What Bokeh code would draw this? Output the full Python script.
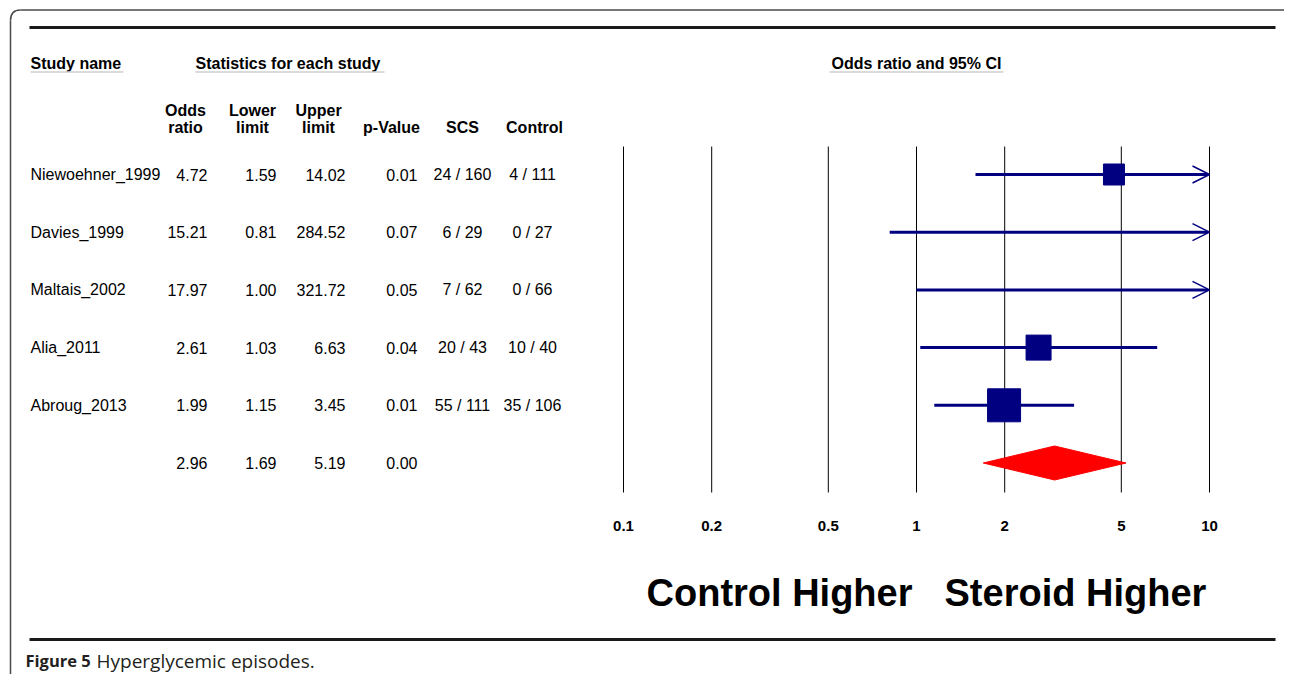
from bokeh.plotting import figure
from bokeh.models import Range1d, LinearScale, LogScale, ColumnDataSource, Arrow, OpenHead
from bokeh.core.properties import value
from bokeh.embed import file_html
from bokeh.resources import INLINE

# ---------------- data ----------------
studies = ["Niewoehner_1999", "Davies_1999", "Maltais_2002", "Alia_2011", "Abroug_2013"]
odds_ratio = [4.72, 15.21, 17.97, 2.61, 1.99]
lower_limit = [1.59, 0.81, 1.00, 1.03, 1.15]
upper_limit = [14.02, 284.52, 321.72, 6.63, 3.45]
p_value = [0.01, 0.07, 0.05, 0.04, 0.01]
scs_events = ["24 / 160", "6 / 29", "7 / 62", "20 / 43", "55 / 111"]
control_events = ["4 / 111", "0 / 27", "0 / 66", "10 / 40", "35 / 106"]
summary_or = 2.96
summary_lower = 1.69
summary_upper = 5.19
summary_p = 0.00
tick_values = [0.1, 0.2, 0.5, 1, 2, 5, 10]
tick_labels = ["0.1", "0.2", "0.5", "1", "2", "5", "10"]

# ---------------- styles / layout ----------------
box_px = [21, 0, 0, 25, 33]
NAVY = "#000080"
RED = "#ff0000"
FONT = value("Liberation Sans")
CAP_FONT = value("Open Sans")
W, H = 1284, 674
ROW_PX = 57.7
ROW0_PX = 174.0
DEC_PX = 293.0
X_LO_PX = 623.0

x_min = 10 ** (-1 - X_LO_PX / DEC_PX)
x_max = 10 ** (-1 + (W - X_LO_PX) / DEC_PX)
y_top = -ROW0_PX / ROW_PX
y_bot = (H - ROW0_PX) / ROW_PX

p = figure(width=W, height=H, x_axis_type="log",
           x_range=Range1d(x_min, x_max), y_range=Range1d(y_bot, y_top),
           x_axis_location=None, y_axis_location=None, min_border=0,
           toolbar_location=None, output_backend="svg",
           outline_line_color=None, background_fill_color="white",
           border_fill_color="white")
p.x_scale = LogScale()
p.xgrid.grid_line_color = None
p.ygrid.grid_line_color = None
p.grid.visible = False
p.extra_x_ranges = {"px": Range1d(0, W)}
p.extra_x_scales = {"px": LinearScale()}
p.extra_y_ranges = {"px": Range1d(H, 0)}
p.extra_y_scales = {"px": LinearScale()}

rows = list(range(len(studies)))
sum_row = len(studies)
x_cap = max(tick_values)

# frame border (rounded corner top-left) and rules
BORDER = "#4a4a4a"
p.line(x=[10, 10], y=[H, 20], x_range_name="px", y_range_name="px", line_color=BORDER, line_width=1.5)
p.quadratic(x0=[10], y0=[20], x1=[20], y1=[9.5], cx=[10], cy=[9.5], x_range_name="px", y_range_name="px",
            line_color=BORDER, line_width=1.5)
p.line(x=[20, W], y=[9.5, 9.5], x_range_name="px", y_range_name="px", line_color=BORDER, line_width=1.5)
p.segment(x0=[29, 29], x1=[1275, 1275], y0=[27, 639], y1=[27, 639], x_range_name="px", y_range_name="px",
          line_color="#1a1a1a", line_width=3)

# vertical reference lines
p.segment(x0=tick_values, x1=tick_values, y0=[146] * len(tick_values), y1=[492] * len(tick_values),
          y_range_name="px", line_color="black", line_width=1)
p.text(x=tick_values, y=[525] * len(tick_values), text=tick_labels, y_range_name="px",
       text_align="center", text_baseline="middle", text_font=FONT, text_font_style="bold",
       text_font_size="15px", text_color="black")

# CIs
seg_src = ColumnDataSource(dict(
    x0=[lower_limit[i] for i in rows if upper_limit[i] <= x_cap],
    x1=[upper_limit[i] for i in rows if upper_limit[i] <= x_cap],
    y=[i for i in rows if upper_limit[i] <= x_cap]))
p.segment(x0="x0", x1="x1", y0="y", y1="y", source=seg_src, line_color=NAVY, line_width=3)

arr_src = ColumnDataSource(dict(
    x0=[lower_limit[i] for i in rows if upper_limit[i] > x_cap],
    x1=[x_cap for i in rows if upper_limit[i] > x_cap],
    y=[i for i in rows if upper_limit[i] > x_cap]))
p.add_layout(Arrow(end=OpenHead(size=17, line_color=NAVY, line_width=1.5),
                   x_start="x0", y_start="y", x_end="x1", y_end="y", source=arr_src,
                   line_color=NAVY, line_width=3))

box_src = ColumnDataSource(dict(
    x=[odds_ratio[i] for i in rows if odds_ratio[i] <= x_cap],
    y=[i for i in rows if odds_ratio[i] <= x_cap],
    s=[box_px[i] for i in rows if odds_ratio[i] <= x_cap]))
p.scatter(x="x", y="y", size="s", source=box_src, marker="square", fill_color=NAVY, line_color=NAVY)

dh = 17 / ROW_PX
p.patch(x=[summary_lower, summary_or, summary_upper, summary_or],
        y=[sum_row, sum_row - dh, sum_row, sum_row + dh], fill_color=RED, line_color=RED, line_width=1)

# table body
def col(xpx, texts, ys, align):
    p.text(x=[xpx] * len(texts), y=ys, text=texts, x_range_name="px", text_align=align,
           text_baseline="middle", text_font=FONT, text_font_size="16px", text_color="black")

all_rows = rows + [sum_row]
col(30, studies, rows, "left")
col(207, ["%.2f" % v for v in odds_ratio + [summary_or]], all_rows, "right")
col(276, ["%.2f" % v for v in lower_limit + [summary_lower]], all_rows, "right")
col(345, ["%.2f" % v for v in upper_limit + [summary_upper]], all_rows, "right")
col(417, ["%.2f" % v for v in p_value + [summary_p]], all_rows, "right")
col(462, scs_events, rows, "center")
col(532, control_events, rows, "center")

# headers
def htext(xs, ys, texts, align, xname="px"):
    kw = dict(x_range_name=xname) if xname else {}
    p.text(x=xs, y=ys, text=texts, y_range_name="px", text_align=align, text_baseline="middle",
           text_font=FONT, text_font_style="bold", text_font_size="16px", text_color="black", **kw)

htext([30, 195], [63, 63], ["Study name", "Statistics for each study"], "left")
htext([1], [63], ["Odds ratio and 95% CI"], "center", xname=None)
p.segment(x0=[30, 195, 829], x1=[123, 384, 1003], y0=[71.5] * 3, y1=[71.5] * 3,
          x_range_name="px", y_range_name="px", line_color="#cfcfcf", line_width=1.5)
htext([185, 252, 318], [110] * 3, ["Odds", "Lower", "Upper"], "center")
htext([185, 252, 318, 391, 462, 534], [127] * 6,
      ["ratio", "limit", "limit", "p-Value", "SCS", "Control"], "center")

# direction labels
p.text(x=[912], y=[592], text=["Control Higher"], x_range_name="px", y_range_name="px",
       text_align="right", text_baseline="middle", text_font=FONT, text_font_style="bold",
       text_font_size="38px", text_color="black")
p.text(x=[944], y=[592], text=["Steroid Higher"], x_range_name="px", y_range_name="px",
       text_align="left", text_baseline="middle", text_font=FONT, text_font_style="bold",
       text_font_size="38px", text_color="black")

# caption
p.text(x=[25], y=[660], text=["Figure 5"], x_range_name="px", y_range_name="px",
       text_align="left", text_baseline="alphabetic", text_font=CAP_FONT, text_font_style="bold",
       text_font_size="16.5px", text_color="#231f20")
p.text(x=[96], y=[660], text=["Hyperglycemic episodes."], x_range_name="px", y_range_name="px",
       text_align="left", text_baseline="alphabetic", text_font=CAP_FONT,
       text_font_size="19px", text_color="#231f20")

open("out.html", "w").write(file_html(p, INLINE))
